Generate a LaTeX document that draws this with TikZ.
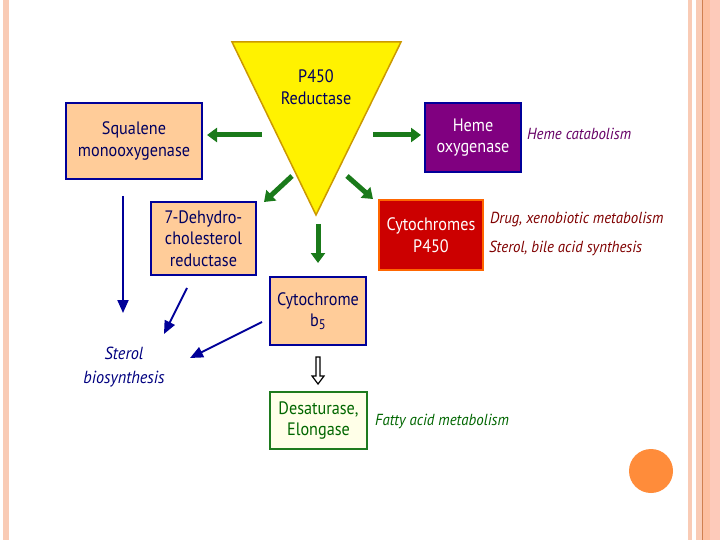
\documentclass[tikz,border=0pt]{standalone}
\usepackage{fontspec}
\setmainfont{PT Sans}[FakeStretch=0.9]
\newfontfamily\labfont{PT Sans}[FakeStretch=0.93]
\usetikzlibrary{arrows.meta}
\definecolor{peach}{HTML}{FFCC99}
\definecolor{navy}{HTML}{000099}
\definecolor{btext}{HTML}{000060}
\definecolor{purp}{HTML}{800080}
\definecolor{dred}{HTML}{CC0000}
\definecolor{orng}{HTML}{FF6600}
\definecolor{ybord}{HTML}{CC9900}
\definecolor{garrow}{HTML}{1A7A1A}
\definecolor{gbord}{HTML}{1E7B1E}
\definecolor{gfill}{HTML}{FFFFE8}
\definecolor{lpurp}{HTML}{660066}
\definecolor{lred}{HTML}{800000}
\definecolor{lgreen}{HTML}{006600}
\definecolor{lnavy}{HTML}{000080}
\definecolor{circ}{HTML}{FF8C3A}
\definecolor{stripe}{HTML}{F9CBB5}
\definecolor{stripeb}{HTML}{FDBFA0}
\definecolor{stripec}{HTML}{FDCABA}
\definecolor{stripel}{HTML}{D08050}
\tikzset{
  box/.style={rectangle, line width=2pt, align=center, text=btext, font=\fontsize{18}{21.5}\selectfont, inner sep=0pt},
  lab/.style={anchor=west, font=\labfont\fontsize{16}{18}\selectfont\itshape, inner sep=0pt},
  garr/.style={line width=5pt, garrow, -{Triangle[width=14pt,length=10pt]}},
  barr/.style={line width=2pt, navy, -{Triangle[width=11pt,length=13pt]}},
}
\begin{document}
\begin{tikzpicture}[x=1pt,y=-1pt]
\useasboundingbox (0,0) rectangle (720,540);
\fill[white] (0,0) rectangle (720,540);
% decorative stripes
\fill[stripe] (3,0) rectangle (9,540);
\fill[stripe] (688,0) rectangle (692,540);
\fill[stripe] (696,0) rectangle (702,540);
\fill[stripel] (702,0) rectangle (703,540);
\fill[stripeb] (703,0) rectangle (710,540);
\fill[stripec] (710,0) rectangle (720,540);
\fill[circ] (651,471) circle (22);
% triangle
\draw[line width=1.5pt, ybord, fill=yellow] (232,42) -- (401,42) -- (316,215) -- cycle;
\node[box] (red) at (316,87) {P450\\Reductase};
% boxes
\node[box, draw=navy, fill=peach, minimum width=136pt, minimum height=76pt] (sq) at (134,141) {Squalene\\monooxygenase};
\node[box, draw=navy, fill=purp, text=white, minimum width=96pt, minimum height=69pt] (ho) at (473,137.5) {Heme\\oxygenase};
\node[box, draw=orng, fill=dred, text=white, minimum width=104pt, minimum height=70pt] (cp) at (431,235) {Cytochromes\\P450};
\node[box, draw=navy, fill=peach, minimum width=105pt, minimum height=73pt] (dhc) at (203.5,238.5) {7-Dehydro-\\cholesterol\\reductase};
\node[box, draw=navy, fill=peach, minimum width=96pt, minimum height=68pt] (b5) at (318,311) {Cytochrome\\b{\fontsize{14}{14}\selectfont\raisebox{-3pt}{5}}};
\node[box, draw=gbord, text=lgreen, fill=gfill, minimum width=97pt, minimum height=57pt] (de) at (318.5,420.5) {Desaturase,\\Elongase};
% labels
\node[lab, text=lpurp] (hc) at (527,134) {Heme catabolism};
\node[lab, text=lred] (dx) at (490,220) {Drug, xenobiotic metabolism};
\node[lab, text=lred] (sb) at (489,248) {Sterol, bile acid synthesis};
\node[lab, text=lgreen] (fa) at (375,421) {Fatty acid metabolism};
\node[font=\labfont\fontsize{17.5}{24}\selectfont\itshape, text=lnavy, align=center, inner sep=0pt] (ster) at (124,367) {Sterol\\biosynthesis};
% green arrows
\coordinate (g1a) at (262,135); \coordinate (g1b) at (207,135);
\coordinate (g2a) at (373,135); \coordinate (g2b) at (421,135);
\coordinate (g3a) at (292,176); \coordinate (g3b) at (264,202);
\coordinate (g4a) at (347,176); \coordinate (g4b) at (373,199);
\coordinate (g5a) at (318,224); \coordinate (g5b) at (318,263);
\draw[garr] (g1a) -- (g1b);
\draw[garr] (g2a) -- (g2b);
\draw[garr] (g3a) -- (g3b);
\draw[garr] (g4a) -- (g4b);
\draw[garr] (g5a) -- (g5b);
% blue arrows
\coordinate (b1a) at (123,196); \coordinate (b1b) at (123,313);
\coordinate (b2a) at (187,288); \coordinate (b2b) at (164,334);
\coordinate (b3a) at (262,322); \coordinate (b3b) at (190,358);
\draw[barr] (b1a) -- (b1b);
\draw[barr] (b2a) -- (b2b);
\draw[barr] (b3a) -- (b3b);
% hollow arrow
\draw[line width=1.2pt, fill=white] (316,357) -- (320,357) -- (320,376) -- (324,376) -- (318,384) -- (312,376) -- (316,376) -- cycle;
\end{tikzpicture}
\end{document}
